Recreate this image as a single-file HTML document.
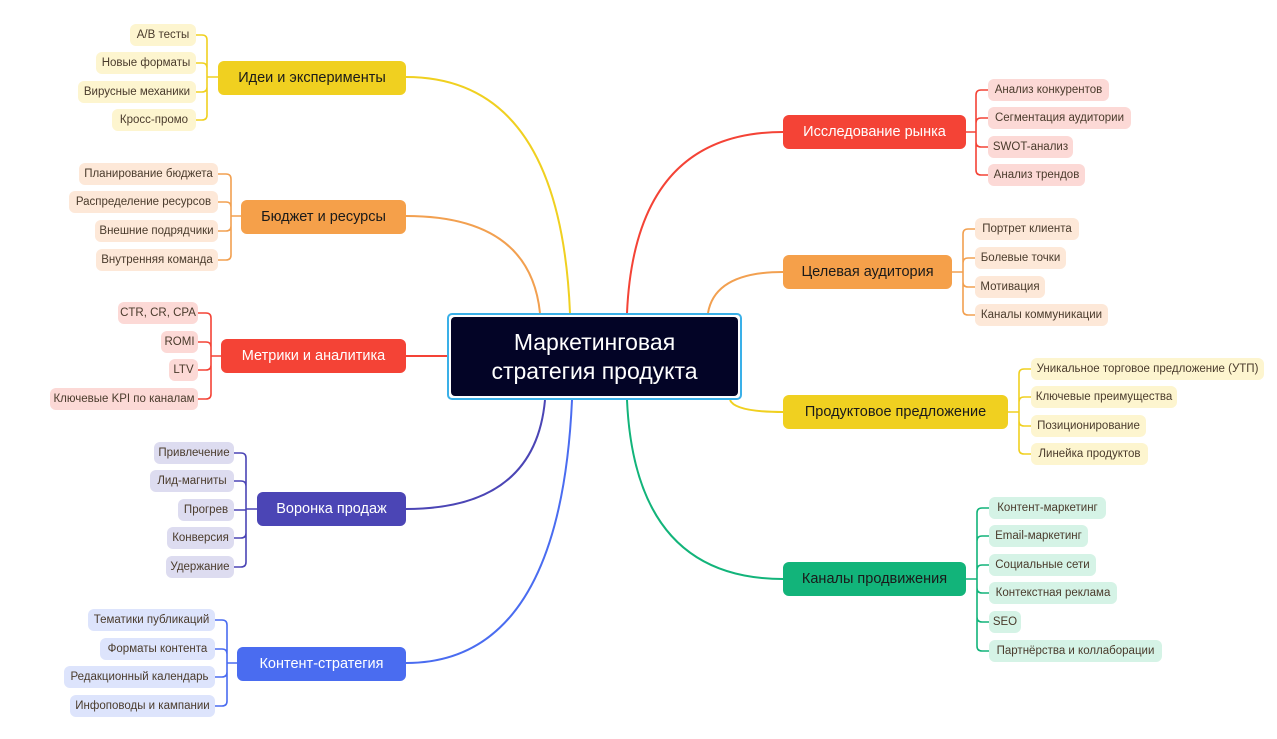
<!DOCTYPE html>
<html><head><meta charset="utf-8"><style>
body{margin:0;width:1277px;height:739px;background:#fff;position:relative;overflow:hidden;font-family:"Liberation Sans","DejaVu Sans",sans-serif}
.n{position:absolute;display:flex;align-items:center;justify-content:center;white-space:nowrap;box-sizing:border-box}
.m{height:34px;border-radius:6px;font-size:14.5px}
.l{height:22px;border-radius:6px;font-size:11.5px;color:#4a3b2c}
svg{position:absolute;left:0;top:0}
</style></head><body>
<svg width="1277" height="739" fill="none" stroke-width="2">
<!-- main connectors -->
<path d="M406 77 Q560 77 570 313" stroke="#f0d020"/>
<path d="M406 216 Q530 216 540 313" stroke="#f2a050"/>
<path d="M406 356 H447" stroke="#f44336"/>
<path d="M406 509 Q535 509 545 400" stroke="#4b45b5"/>
<path d="M406 663 Q560 663 572 400" stroke="#4a6cf0"/>
<path d="M783 132 Q635 132 627 313" stroke="#f44336"/>
<path d="M783 272 Q715 272 708 313" stroke="#f2a050"/>
<path d="M783 412 Q735 412 730 400" stroke="#f0d020"/>
<path d="M783 579 Q635 579 627 400" stroke="#12b47a"/>
<g stroke-width="1.6">
<!-- Ideas bracket x207 -->
<g stroke="#f0d020"><path d="M406 77 H207 M207 40 V115 M196 35 H202 Q207 35 207 40 M196 120 H202 Q207 120 207 115 M196 63 H202 Q207 63 207 68 M196 92 H202 Q207 92 207 87"/></g>
<g stroke="#f2a050"><path d="M241 216 H231 M231 179 V255 M218 174 H226 Q231 174 231 179 M218 260 H226 Q231 260 231 255 M218 202 H226 Q231 202 231 207 M218 231 H226 Q231 231 231 226"/></g>
<g stroke="#f44336"><path d="M221 356 H211 M211 318 V394 M198 313 H206 Q211 313 211 318 M198 399 H206 Q211 399 211 394 M198 342 H206 Q211 342 211 347 M198 370 H206 Q211 370 211 365"/></g>
<g stroke="#4b45b5"><path d="M257 509 H246 M246 458 V562 M234 453 H241 Q246 453 246 458 M234 567 H241 Q246 567 246 562 M234 481 H241 Q246 481 246 486 M234 510 H246 M234 538 H241 Q246 538 246 533"/></g>
<g stroke="#4a6cf0"><path d="M237 663 H227 M227 625 V701 M215 620 H222 Q227 620 227 625 M215 706 H222 Q227 706 227 701 M215 649 H222 Q227 649 227 654 M215 677 H222 Q227 677 227 672"/></g>
<g stroke="#f44336"><path d="M966 132 H976 M976 95 V170 M988 90 H981 Q976 90 976 95 M988 175 H981 Q976 175 976 170 M988 118 H981 Q976 118 976 123 M988 147 H981 Q976 147 976 142"/></g>
<g stroke="#f2a050"><path d="M952 272 H963 M963 234 V310 M975 229 H968 Q963 229 963 234 M975 315 H968 Q963 315 963 310 M975 258 H968 Q963 258 963 263 M975 287 H968 Q963 287 963 282"/></g>
<g stroke="#f0d020"><path d="M1008 412 H1019 M1019 374 V449 M1031 369 H1024 Q1019 369 1019 374 M1031 454 H1024 Q1019 454 1019 449 M1031 397 H1024 Q1019 397 1019 402 M1031 426 H1024 Q1019 426 1019 421"/></g>
<g stroke="#12b47a"><path d="M966 579 H977 M977 513 V646 M989 508 H982 Q977 508 977 513 M989 651 H982 Q977 651 977 646 M989 536 H982 Q977 536 977 541 M989 565 H982 Q977 565 977 570 M989 593 H982 Q977 593 977 588 M989 622 H982 Q977 622 977 617"/></g>
</g>
</svg>

<div class="n" style="left:447px;top:313px;width:295px;height:87px;border:2px solid #3ab0e8;border-radius:5px;background:#fff;padding:2px"><div style="width:100%;height:100%;background:#030426;border-radius:4px;color:#fff;font-size:23px;line-height:29px;text-align:center;display:flex;align-items:center;justify-content:center">Маркетинговая<br>стратегия продукта</div></div>

<div class="n m" style="left:218px;top:61px;width:188px;background:#f0d020;color:#1a1a1a">Идеи и эксперименты</div>
<div class="n m" style="left:241px;top:200px;width:165px;background:#f5a04a;color:#1a1a1a">Бюджет и ресурсы</div>
<div class="n m" style="left:221px;top:339px;width:185px;background:#f44336;color:#fff">Метрики и аналитика</div>
<div class="n m" style="left:257px;top:492px;width:149px;background:#4b45b5;color:#fff">Воронка продаж</div>
<div class="n m" style="left:237px;top:647px;width:169px;background:#4a6cf0;color:#fff">Контент-стратегия</div>
<div class="n m" style="left:783px;top:115px;width:183px;background:#f44336;color:#fff">Исследование рынка</div>
<div class="n m" style="left:783px;top:255px;width:169px;background:#f5a04a;color:#1a1a1a">Целевая аудитория</div>
<div class="n m" style="left:783px;top:395px;width:225px;background:#f0d020;color:#1a1a1a">Продуктовое предложение</div>
<div class="n m" style="left:783px;top:562px;width:183px;background:#12b47a;color:#1a1a1a">Каналы продвижения</div>

<!-- ideas -->
<div class="n l" style="left:130px;top:24px;width:66px;background:#fdf5cf">A/B тесты</div>
<div class="n l" style="left:96px;top:52px;width:100px;background:#fdf5cf">Новые форматы</div>
<div class="n l" style="left:78px;top:81px;width:118px;background:#fdf5cf">Вирусные механики</div>
<div class="n l" style="left:112px;top:109px;width:84px;background:#fdf5cf">Кросс-промо</div>
<!-- budget -->
<div class="n l" style="left:79px;top:163px;width:139px;background:#fde8d8">Планирование бюджета</div>
<div class="n l" style="left:69px;top:191px;width:149px;background:#fde8d8">Распределение ресурсов</div>
<div class="n l" style="left:95px;top:220px;width:123px;background:#fde8d8">Внешние подрядчики</div>
<div class="n l" style="left:96px;top:249px;width:122px;background:#fde8d8">Внутренняя команда</div>
<!-- metrics -->
<div class="n l" style="left:118px;top:302px;width:80px;background:#fcd9d6">CTR, CR, CPA</div>
<div class="n l" style="left:161px;top:331px;width:37px;background:#fcd9d6">ROMI</div>
<div class="n l" style="left:169px;top:359px;width:29px;background:#fcd9d6">LTV</div>
<div class="n l" style="left:50px;top:388px;width:148px;background:#fcd9d6">Ключевые KPI по каналам</div>
<!-- funnel -->
<div class="n l" style="left:154px;top:442px;width:80px;background:#dddcf0">Привлечение</div>
<div class="n l" style="left:150px;top:470px;width:84px;background:#dddcf0">Лид-магниты</div>
<div class="n l" style="left:178px;top:499px;width:56px;background:#dddcf0">Прогрев</div>
<div class="n l" style="left:167px;top:527px;width:67px;background:#dddcf0">Конверсия</div>
<div class="n l" style="left:166px;top:556px;width:68px;background:#dddcf0">Удержание</div>
<!-- content -->
<div class="n l" style="left:88px;top:609px;width:127px;background:#dde4fc">Тематики публикаций</div>
<div class="n l" style="left:100px;top:638px;width:115px;background:#dde4fc">Форматы контента</div>
<div class="n l" style="left:64px;top:666px;width:151px;background:#dde4fc">Редакционный календарь</div>
<div class="n l" style="left:70px;top:695px;width:145px;background:#dde4fc">Инфоповоды и кампании</div>
<!-- research -->
<div class="n l" style="left:988px;top:79px;width:121px;background:#fcd9d6">Анализ конкурентов</div>
<div class="n l" style="left:988px;top:107px;width:143px;background:#fcd9d6">Сегментация аудитории</div>
<div class="n l" style="left:988px;top:136px;width:85px;background:#fcd9d6">SWOT-анализ</div>
<div class="n l" style="left:988px;top:164px;width:97px;background:#fcd9d6">Анализ трендов</div>
<!-- target -->
<div class="n l" style="left:975px;top:218px;width:104px;background:#fde8d8">Портрет клиента</div>
<div class="n l" style="left:975px;top:247px;width:91px;background:#fde8d8">Болевые точки</div>
<div class="n l" style="left:975px;top:276px;width:70px;background:#fde8d8">Мотивация</div>
<div class="n l" style="left:975px;top:304px;width:133px;background:#fde8d8">Каналы коммуникации</div>
<!-- product -->
<div class="n l" style="left:1031px;top:358px;width:233px;background:#fdf5cf">Уникальное торговое предложение (УТП)</div>
<div class="n l" style="left:1031px;top:386px;width:146px;background:#fdf5cf">Ключевые преимущества</div>
<div class="n l" style="left:1031px;top:415px;width:115px;background:#fdf5cf">Позиционирование</div>
<div class="n l" style="left:1031px;top:443px;width:117px;background:#fdf5cf">Линейка продуктов</div>
<!-- channels -->
<div class="n l" style="left:989px;top:497px;width:117px;background:#d5f3e6">Контент-маркетинг</div>
<div class="n l" style="left:989px;top:525px;width:99px;background:#d5f3e6">Email-маркетинг</div>
<div class="n l" style="left:989px;top:554px;width:107px;background:#d5f3e6">Социальные сети</div>
<div class="n l" style="left:989px;top:582px;width:128px;background:#d5f3e6">Контекстная реклама</div>
<div class="n l" style="left:989px;top:611px;width:32px;background:#d5f3e6">SEO</div>
<div class="n l" style="left:989px;top:640px;width:173px;background:#d5f3e6">Партнёрства и коллаборации</div>
</body></html>
